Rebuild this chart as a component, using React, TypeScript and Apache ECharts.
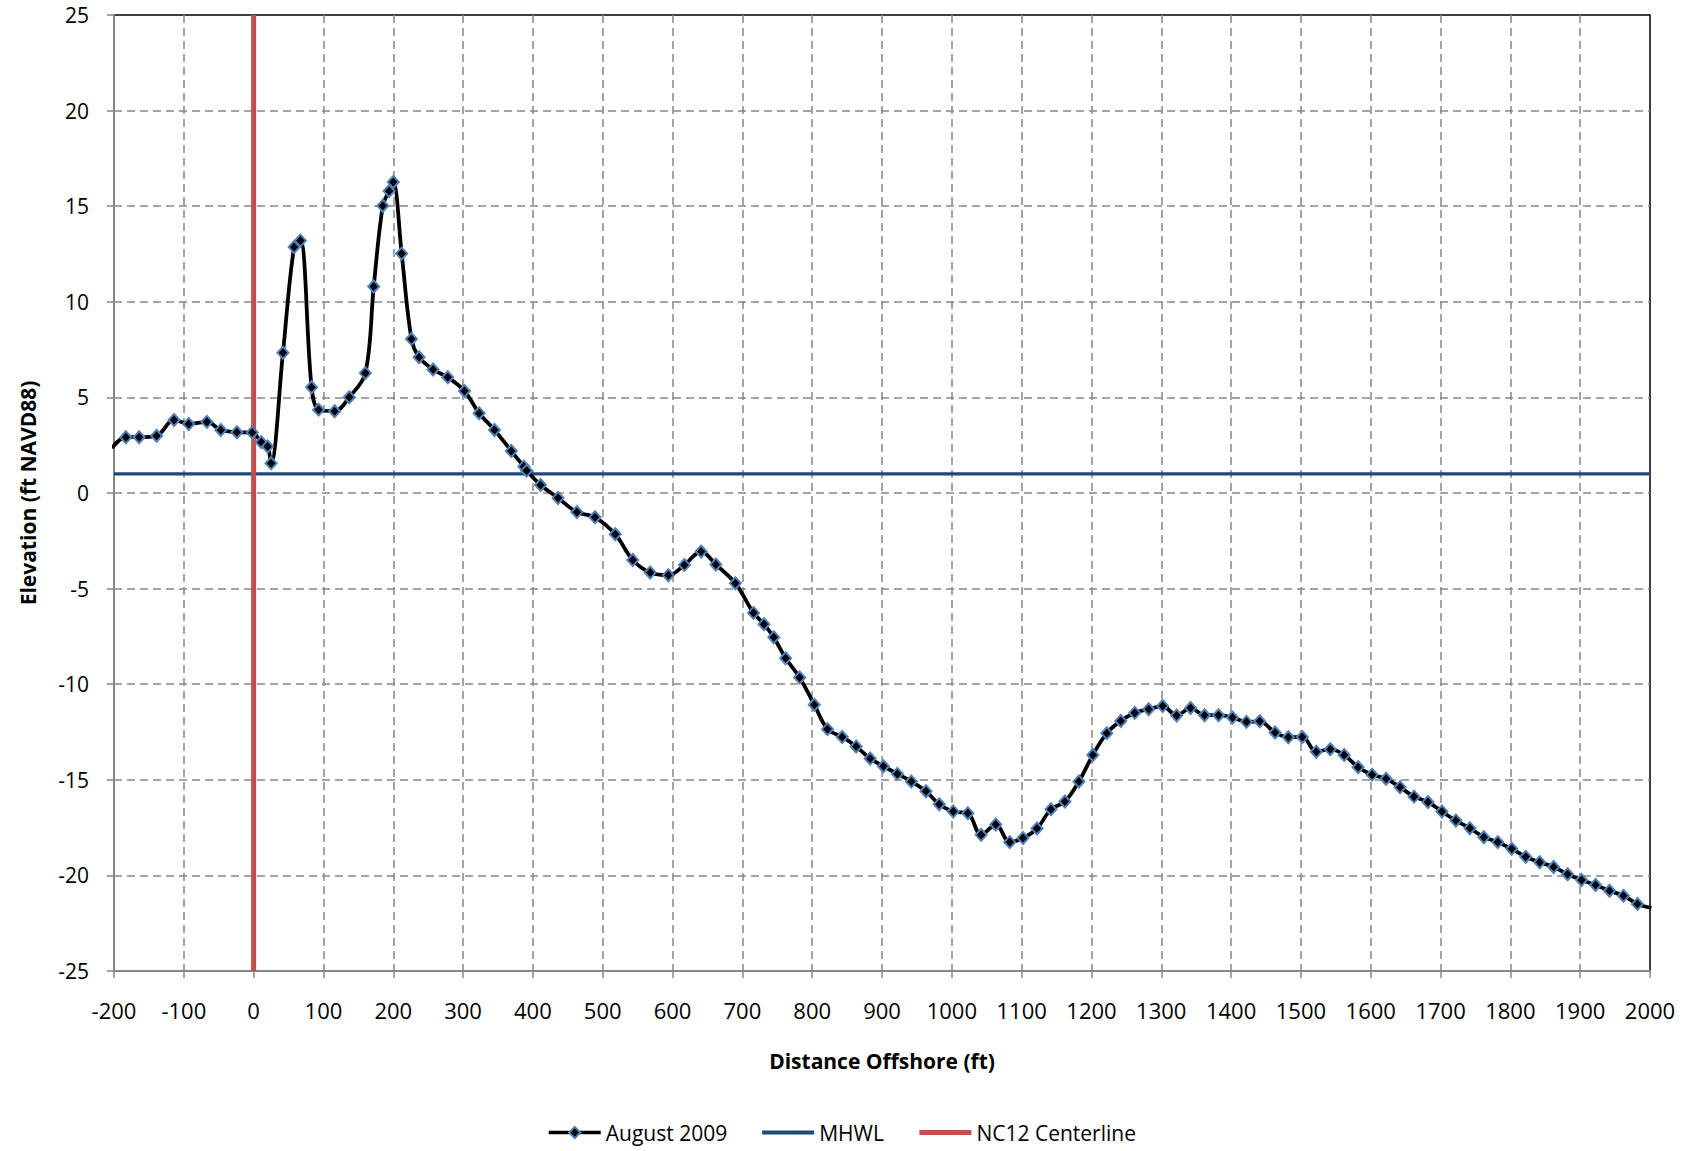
import React, { useEffect, useRef } from "react";
import * as echarts from "echarts";

// Profile survey, August 2009
const distance = [
  -203, -183, -164, -139, -114, -93, -67, -47, -24, -2, 11, 20, 25, 42, 58, 67, 83, 93, 116, 137,
  160, 172, 185, 194, 200, 212, 226, 237, 257, 278, 302, 323, 345, 369, 387, 391, 411, 436, 463, 489,
  518, 543, 568, 594, 617, 641, 662, 690, 716, 731, 745, 762, 782, 803, 822, 843, 863, 883, 902, 922,
  942, 963, 982, 1002, 1023, 1042, 1063, 1083, 1102, 1122, 1142, 1162, 1182, 1202, 1222, 1242, 1262, 1282, 1302, 1322,
  1342, 1362, 1382, 1402, 1422, 1441, 1463, 1482, 1502, 1522, 1542, 1562, 1582, 1602, 1622, 1642, 1662, 1682, 1702, 1722,
  1742, 1762, 1782, 1802, 1822, 1842, 1862, 1882, 1902, 1922, 1942, 1962, 1982, 2002,
];
const elevation = [
  2.35, 2.92, 2.92, 2.99, 3.82, 3.61, 3.72, 3.3, 3.18, 3.16, 2.66, 2.43, 1.56, 7.34, 12.87, 13.2, 5.53, 4.36, 4.28, 5.01,
  6.27, 10.8, 15.02, 15.8, 16.27, 12.52, 8.06, 7.1, 6.46, 6.05, 5.34, 4.17, 3.3, 2.2, 1.38, 1.17, 0.42, -0.26, -1.0, -1.27,
  -2.16, -3.5, -4.16, -4.3, -3.76, -3.06, -3.74, -4.72, -6.27, -6.86, -7.55, -8.64, -9.65, -11.07, -12.35, -12.76, -13.26, -13.89, -14.29, -14.69,
  -15.09, -15.6, -16.28, -16.66, -16.75, -17.88, -17.34, -18.26, -18.04, -17.55, -16.54, -16.14, -15.09, -13.7, -12.56, -11.92, -11.5, -11.31, -11.14, -11.64,
  -11.24, -11.62, -11.62, -11.74, -11.97, -11.94, -12.53, -12.77, -12.76, -13.53, -13.4, -13.7, -14.34, -14.73, -14.95, -15.39, -15.88, -16.16, -16.66, -17.13,
  -17.53, -18.0, -18.26, -18.61, -19.03, -19.31, -19.56, -19.94, -20.24, -20.5, -20.8, -21.07, -21.49, -21.7,
];
const mhwlLevel = 1;
const centerlineDistance = 0;
const xRange = [-200, 2000];
const yRange = [-25, 25];
const seriesNames = ["August 2009", "MHWL", "NC12 Centerline"];

const FONT = "'Open Sans', 'Noto Sans', sans-serif";
const BLACK = "#000000";
const MARKER_BLUE = "#4F81BD";
const MHWL_BLUE = "#1F497D";
const CENTER_RED = "#C0504D";

export default function App() {
  const ref = useRef<HTMLDivElement>(null);
  useEffect(() => {
    document.body.style.margin = "0";
    const chart = echarts.init(ref.current as HTMLDivElement, null, { renderer: "svg" });
    const grid = "#868686";
    chart.setOption({
      animation: false,
      textStyle: { fontFamily: FONT },
      grid: {
        left: 114,
        right: 42,
        top: 15,
        bottom: 180,
        show: true,
        borderColor: "#000",
        borderWidth: 1.5,
        backgroundColor: "transparent",
      },
      legend: {
        data: [
          { name: seriesNames[0], lineStyle: { width: 3.5 } },
          { name: seriesNames[1], itemStyle: { opacity: 0 }, lineStyle: { width: 4 } },
          { name: seriesNames[2], itemStyle: { opacity: 0 }, lineStyle: { width: 5 } },
        ],
        left: 542,
        top: 1117,
        itemWidth: 52,
        itemHeight: 14,
        itemGap: 33,
        textStyle: { fontSize: 21, color: "#000", fontFamily: FONT },
      },
      xAxis: {
        type: "value",
        min: xRange[0],
        max: xRange[1],
        interval: 100,
        name: "Distance Offshore (ft)",
        nameLocation: "middle",
        nameGap: 79,
        nameTextStyle: { fontSize: 21, fontWeight: "bold", color: "#000", fontFamily: FONT },
        axisLine: { onZero: false, lineStyle: { color: grid, width: 2 } },
        axisTick: { show: true, length: 7, lineStyle: { color: grid, width: 1.5 } },
        axisLabel: {
          fontSize: 22,
          color: "#000",
          margin: 28,
          fontFamily: FONT,
          formatter: (v: number) => String(v),
        },
        splitLine: { show: true, showMaxLine: false, lineStyle: { color: grid, width: 1.5, type: [8, 5] } },
      },
      yAxis: {
        type: "value",
        min: yRange[0],
        max: yRange[1],
        interval: 5,
        name: "Elevation (ft NAVD88)",
        nameLocation: "middle",
        nameGap: 76,
        nameTextStyle: { fontSize: 21, fontWeight: "bold", color: "#000", fontFamily: FONT },
        axisLine: { onZero: false, lineStyle: { color: grid, width: 2 } },
        axisTick: { show: true, length: 7, lineStyle: { color: grid, width: 1.5 } },
        axisLabel: { fontSize: 21, color: "#000", margin: 25, fontFamily: FONT },
        splitLine: { show: true, showMaxLine: false, lineStyle: { color: grid, width: 1.5, type: [8, 5] } },
      },
      series: [
        {
          name: seriesNames[0],
          type: "line",
          data: distance.map((d, i) => [d, elevation[i]]),
          smooth: 0.35,
          clip: true,
          symbol: "diamond",
          symbolSize: [11, 12],
          itemStyle: { color: BLACK, borderColor: MARKER_BLUE, borderWidth: 2 },
          lineStyle: { color: BLACK, width: 3.8 },
          z: 4,
        },
        {
          name: seriesNames[1],
          type: "line",
          data: [
            [xRange[0], mhwlLevel],
            [xRange[1], mhwlLevel],
          ],
          symbol: "none",
          itemStyle: { color: MHWL_BLUE },
          lineStyle: { color: MHWL_BLUE, width: 3.2 },
          z: 2,
        },
        {
          name: seriesNames[2],
          type: "line",
          data: [
            [centerlineDistance, yRange[1]],
            [centerlineDistance, yRange[0]],
          ],
          symbol: "none",
          itemStyle: { color: CENTER_RED },
          lineStyle: { color: CENTER_RED, width: 5 },
          z: 3,
        },
      ],
    });
    return () => chart.dispose();
  }, []);
  return <div ref={ref} style={{ width: 1692, height: 1151 }} />;
}
